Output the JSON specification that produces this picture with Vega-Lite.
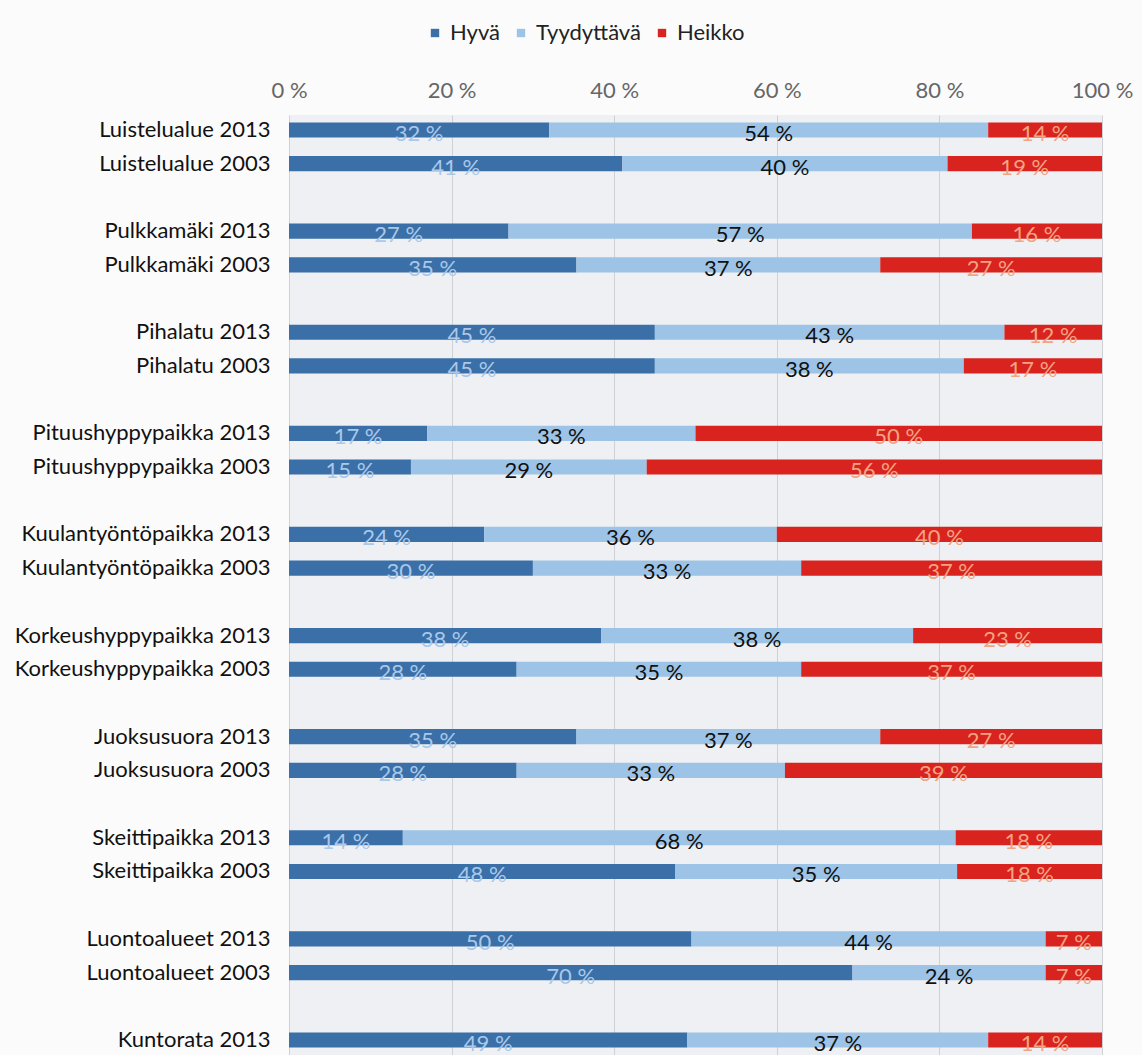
{
  "$schema": "https://vega.github.io/schema/vega-lite/v6.json",
  "autosize": {"type": "none"},
  "padding": {"left": 289, "top": 115, "right": 40, "bottom": 0},
  "width": 813,
  "height": 940,
  "background": "#fbfbfb",
  "config": {
    "view": {"fill": "#eef0f3", "stroke": null},
    "font": "Lato"
  },
  "data": {"values": [
    {"c": "Luistelualue 2013", "k": "Hyvä", "v": 32}, {"c": "Luistelualue 2013", "k": "Tyydyttävä", "v": 54}, {"c": "Luistelualue 2013", "k": "Heikko", "v": 14},
    {"c": "Luistelualue 2003", "k": "Hyvä", "v": 41}, {"c": "Luistelualue 2003", "k": "Tyydyttävä", "v": 40}, {"c": "Luistelualue 2003", "k": "Heikko", "v": 19},
    {"c": "Pulkkamäki 2013", "k": "Hyvä", "v": 27}, {"c": "Pulkkamäki 2013", "k": "Tyydyttävä", "v": 57}, {"c": "Pulkkamäki 2013", "k": "Heikko", "v": 16},
    {"c": "Pulkkamäki 2003", "k": "Hyvä", "v": 35}, {"c": "Pulkkamäki 2003", "k": "Tyydyttävä", "v": 37}, {"c": "Pulkkamäki 2003", "k": "Heikko", "v": 27},
    {"c": "Pihalatu 2013", "k": "Hyvä", "v": 45}, {"c": "Pihalatu 2013", "k": "Tyydyttävä", "v": 43}, {"c": "Pihalatu 2013", "k": "Heikko", "v": 12},
    {"c": "Pihalatu 2003", "k": "Hyvä", "v": 45}, {"c": "Pihalatu 2003", "k": "Tyydyttävä", "v": 38}, {"c": "Pihalatu 2003", "k": "Heikko", "v": 17},
    {"c": "Pituushyppypaikka 2013", "k": "Hyvä", "v": 17}, {"c": "Pituushyppypaikka 2013", "k": "Tyydyttävä", "v": 33}, {"c": "Pituushyppypaikka 2013", "k": "Heikko", "v": 50},
    {"c": "Pituushyppypaikka 2003", "k": "Hyvä", "v": 15}, {"c": "Pituushyppypaikka 2003", "k": "Tyydyttävä", "v": 29}, {"c": "Pituushyppypaikka 2003", "k": "Heikko", "v": 56},
    {"c": "Kuulantyöntöpaikka 2013", "k": "Hyvä", "v": 24}, {"c": "Kuulantyöntöpaikka 2013", "k": "Tyydyttävä", "v": 36}, {"c": "Kuulantyöntöpaikka 2013", "k": "Heikko", "v": 40},
    {"c": "Kuulantyöntöpaikka 2003", "k": "Hyvä", "v": 30}, {"c": "Kuulantyöntöpaikka 2003", "k": "Tyydyttävä", "v": 33}, {"c": "Kuulantyöntöpaikka 2003", "k": "Heikko", "v": 37},
    {"c": "Korkeushyppypaikka 2013", "k": "Hyvä", "v": 38}, {"c": "Korkeushyppypaikka 2013", "k": "Tyydyttävä", "v": 38}, {"c": "Korkeushyppypaikka 2013", "k": "Heikko", "v": 23},
    {"c": "Korkeushyppypaikka 2003", "k": "Hyvä", "v": 28}, {"c": "Korkeushyppypaikka 2003", "k": "Tyydyttävä", "v": 35}, {"c": "Korkeushyppypaikka 2003", "k": "Heikko", "v": 37},
    {"c": "Juoksusuora 2013", "k": "Hyvä", "v": 35}, {"c": "Juoksusuora 2013", "k": "Tyydyttävä", "v": 37}, {"c": "Juoksusuora 2013", "k": "Heikko", "v": 27},
    {"c": "Juoksusuora 2003", "k": "Hyvä", "v": 28}, {"c": "Juoksusuora 2003", "k": "Tyydyttävä", "v": 33}, {"c": "Juoksusuora 2003", "k": "Heikko", "v": 39},
    {"c": "Skeittipaikka 2013", "k": "Hyvä", "v": 14}, {"c": "Skeittipaikka 2013", "k": "Tyydyttävä", "v": 68}, {"c": "Skeittipaikka 2013", "k": "Heikko", "v": 18},
    {"c": "Skeittipaikka 2003", "k": "Hyvä", "v": 48}, {"c": "Skeittipaikka 2003", "k": "Tyydyttävä", "v": 35}, {"c": "Skeittipaikka 2003", "k": "Heikko", "v": 18},
    {"c": "Luontoalueet 2013", "k": "Hyvä", "v": 50}, {"c": "Luontoalueet 2013", "k": "Tyydyttävä", "v": 44}, {"c": "Luontoalueet 2013", "k": "Heikko", "v": 7},
    {"c": "Luontoalueet 2003", "k": "Hyvä", "v": 70}, {"c": "Luontoalueet 2003", "k": "Tyydyttävä", "v": 24}, {"c": "Luontoalueet 2003", "k": "Heikko", "v": 7},
    {"c": "Kuntorata 2013", "k": "Hyvä", "v": 49}, {"c": "Kuntorata 2013", "k": "Tyydyttävä", "v": 37}, {"c": "Kuntorata 2013", "k": "Heikko", "v": 14}
  ]},
  "transform": [
    {"calculate": "indexof(['Hyvä','Tyydyttävä','Heikko'], datum.k)", "as": "o"},
    {"stack": "v", "groupby": ["c"], "sort": [{"field": "o", "order": "ascending"}], "offset": "normalize", "as": ["v0", "v1"]},
    {"calculate": "(datum.v0 + datum.v1) / 2", "as": "mid"},
    {"calculate": "datum.v + ' %'", "as": "lbl"}
  ],
  "encoding": {
    "y": {
      "field": "c", "type": "nominal", "title": null,
      "scale": {
        "domain": ["Luistelualue 2013", "Luistelualue 2003", " ",
                   "Pulkkamäki 2013", "Pulkkamäki 2003", "  ",
                   "Pihalatu 2013", "Pihalatu 2003", "   ",
                   "Pituushyppypaikka 2013", "Pituushyppypaikka 2003", "    ",
                   "Kuulantyöntöpaikka 2013", "Kuulantyöntöpaikka 2003", "     ",
                   "Korkeushyppypaikka 2013", "Korkeushyppypaikka 2003", "      ",
                   "Juoksusuora 2013", "Juoksusuora 2003", "       ",
                   "Skeittipaikka 2013", "Skeittipaikka 2003", "        ",
                   "Luontoalueet 2013", "Luontoalueet 2003", "         ",
                   "Kuntorata 2013"],
        "paddingInner": 0.55, "paddingOuter": 0.22
      },
      "axis": {"domain": false, "ticks": false, "labelPadding": 19, "labelFontSize": 22, "labelColor": "#111111", "labelFont": "Lato", "labelLimit": 0}
    }
  },
  "layer": [
    {
      "mark": {"type": "bar"},
      "encoding": {
        "x": {"field": "v0", "type": "quantitative", "scale": {"domain": [0, 1]},
          "axis": {"orient": "top", "values": [0, 0.2, 0.4, 0.6, 0.8, 1], "labelExpr": "format(datum.value*100,'d') + ' %'",
            "domain": false, "ticks": false, "labelPadding": 13, "labelFontSize": 22, "labelColor": "#666666", "labelFont": "Lato",
            "labelFlush": false, "grid": true, "gridColor": "#cfd1d4", "gridWidth": 1, "title": null}},
        "x2": {"field": "v1"},
        "color": {"field": "k", "type": "nominal",
          "scale": {"domain": ["Hyvä", "Tyydyttävä", "Heikko"], "range": ["#3a6fa8", "#9dc3e6", "#d9231f"]},
          "legend": {"title": null, "orient": "none", "legendX": 135, "legendY": -93, "direction": "horizontal",
            "symbolType": "square", "symbolSize": 70, "symbolStrokeWidth": 0, "labelFontSize": 22, "labelColor": "#222222",
            "labelFont": "Lato", "columnPadding": 10, "labelOffset": 4}}
      }
    },
    {
      "mark": {"type": "text", "fontSize": 22, "dy": 4, "font": "Lato"},
      "encoding": {
        "x": {"field": "mid", "type": "quantitative"},
        "text": {"field": "lbl"},
        "color": {"field": "k", "type": "nominal",
          "scale": {"domain": ["Hyvä", "Tyydyttävä", "Heikko"], "range": ["#3a6fa8", "#9dc3e6", "#d9231f"]},
          "legend": null},
        "fill": {"field": "k", "type": "nominal",
          "scale": {"domain": ["Hyvä", "Tyydyttävä", "Heikko"], "range": ["#a9c8ea", "#111111", "#f2a482"]},
          "legend": null}
      }
    }
  ],
  "resolve": {"scale": {"color": "independent", "fill": "independent"}}
}
